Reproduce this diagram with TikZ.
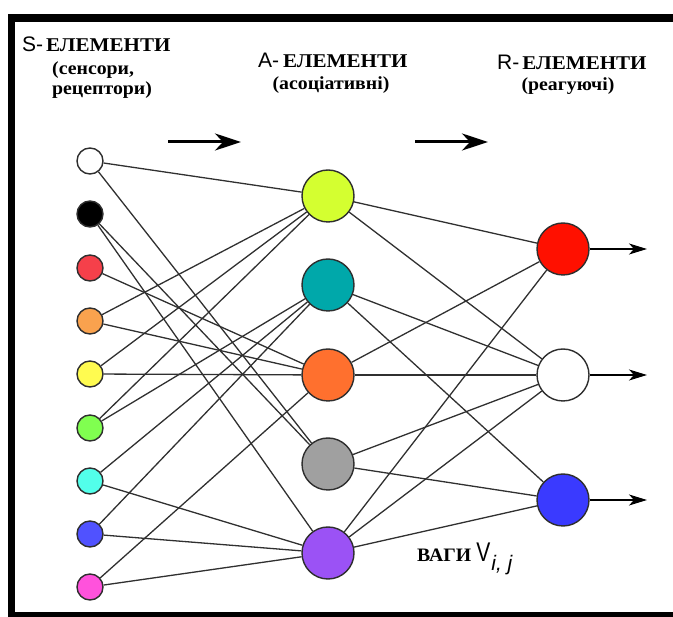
\documentclass[tikz,border=0pt]{standalone}
\usepackage{graphicx}
\usepackage{fontspec}
\setmainfont{Liberation Serif}
\newfontfamily\arialfont{Liberation Sans}
\usetikzlibrary{arrows.meta}
\pgfdeclarelayer{edges}
\pgfsetlayers{edges,main}

% fill colours of the units
\definecolor{nodeline}{HTML}{2E2E2E}
\definecolor{linkgray}{HTML}{303030}
\definecolor{sred}{HTML}{F5404A}
\definecolor{sorange}{HTML}{F9A24E}
\definecolor{syellow}{HTML}{FFFB50}
\definecolor{sgreen}{HTML}{80FF50}
\definecolor{scyan}{HTML}{52FFEA}
\definecolor{sblue}{HTML}{5052FF}
\definecolor{spink}{HTML}{FF52DC}
\definecolor{alime}{HTML}{D4FF30}
\definecolor{ateal}{HTML}{00A8AA}
\definecolor{aorange}{HTML}{FF702E}
\definecolor{agray}{HTML}{A0A0A0}
\definecolor{apurple}{HTML}{9B52F5}
\definecolor{rred}{HTML}{FF1000}
\definecolor{rblue}{HTML}{3A3AFF}

% heading pieces
\newcommand{\unitletter}[1]{{\arialfont\fontsize{21}{21}\selectfont #1-}}
\newcommand{\unitword}{\scalebox{1.08}[1]{\bfseries\fontsize{19.5}{20}\selectfont ЕЛЕМЕНТИ}}
\newcommand{\subline}[1]{\scalebox{1.07}[1]{\bfseries\fontsize{18.5}{19}\selectfont #1}}

\begin{document}
\begin{tikzpicture}[x=1pt,y=-1pt,
  neuron/.style={circle,draw=nodeline,line width=1.4pt,inner sep=0pt},
  sunit/.style={neuron,minimum size=26pt},
  aunit/.style={neuron,minimum size=52pt},
  runit/.style={neuron,minimum size=52pt},
  link/.style={draw=linkgray,line width=1.3pt},
  flow/.style={line width=3pt,-{Stealth[length=26pt,width=17pt,inset=8pt]}},
  outarrow/.style={line width=1.3pt,-{Stealth[length=18pt,width=11pt,inset=5pt]}},
  title/.style={anchor=base west,inner sep=0pt},
  subtitle/.style={anchor=base,inner sep=0pt},
]
\useasboundingbox (0,0) rectangle (673,617);

% frame
\fill[black] (8,14) rectangle (673,22);
\fill[black] (8,14) rectangle (15,617);
\fill[black] (8,612.5) rectangle (673,617);

% headings
\node[title] (shead) at (22,52) {\unitletter{S}\kern3pt\unitword};
\node[subtitle,anchor=base west] (ssub1) at (52,75) {\subline{(сенсори,}};
\node[subtitle,anchor=base west] (ssub2) at (52,95) {\subline{рецептори)}};
\node[title] (ahead) at (258,68) {\unitletter{A}\kern4pt\unitword};
\node[subtitle] (asub) at (331,90) {\subline{(асоціативні)}};
\node[title] (rhead) at (497,70) {\unitletter{R}\kern3pt\unitword};
\node[subtitle] (rsub) at (568,91) {\subline{(реагуючі)}};

% direction arrows
\coordinate (f1a) at (168,142); \coordinate (f1b) at (241,142);
\coordinate (f2a) at (415,142); \coordinate (f2b) at (488,142);
\draw[flow] (f1a) -- (f1b);
\draw[flow] (f2a) -- (f2b);

% sensor units
\node[sunit,fill=white]   (s1) at (90,161) {};
\node[sunit,fill=black]   (s2) at (90,214) {};
\node[sunit,fill=sred]    (s3) at (90,268) {};
\node[sunit,fill=sorange] (s4) at (90,321) {};
\node[sunit,fill=syellow] (s5) at (90,374) {};
\node[sunit,fill=sgreen]  (s6) at (90,428) {};
\node[sunit,fill=scyan]   (s7) at (90,481) {};
\node[sunit,fill=sblue]   (s8) at (90,534) {};
\node[sunit,fill=spink]   (s9) at (90,587) {};

% associative units
\node[aunit,fill=alime]   (a1) at (328,196) {};
\node[aunit,fill=ateal]   (a2) at (328,285) {};
\node[aunit,fill=aorange] (a3) at (328,375) {};
\node[aunit,fill=agray]   (a4) at (328,464) {};
\node[aunit,fill=apurple] (a5) at (328,553) {};

% reacting units
\node[runit,fill=rred]  (r1) at (563,249) {};
\node[runit,fill=white] (r2) at (563,375) {};
\node[runit,fill=rblue] (r3) at (563,500) {};

% connections
\begin{pgfonlayer}{edges}
\foreach \u/\v in {s1/a1,s1/a4,s2/a4,s2/a5,s3/a3,s4/a1,s4/a3,s5/a1,s5/a3,
                   s6/a1,s6/a2,s7/a2,s7/a5,s8/a2,s8/a5,s9/a3,s9/a5,
                   a1/r1,a1/r2,a2/r2,a2/r3,a3/r1,a3/r2,a4/r2,a4/r3,
                   a5/r1,a5/r2,a5/r3}
  \draw[link] (\u) -- (\v);
\end{pgfonlayer}

% outputs
\coordinate (o1) at (647,249);
\coordinate (o2) at (647,375);
\coordinate (o3) at (647,500);
\draw[outarrow] (r1) -- (o1);
\draw[outarrow] (r2) -- (o2);
\draw[outarrow] (r3) -- (o3);

% weight label
\node[title] (weights) at (417,562) {\scalebox{1.04}[1]{\bfseries\fontsize{19}{19}\selectfont ВАГИ}\kern5pt\scalebox{0.78}[1]{\arialfont\fontsize{27}{27}\selectfont V}\kern1pt\raisebox{-9pt}{\arialfont\itshape\fontsize{21}{21}\selectfont i, j}};
\end{tikzpicture}
\end{document}
